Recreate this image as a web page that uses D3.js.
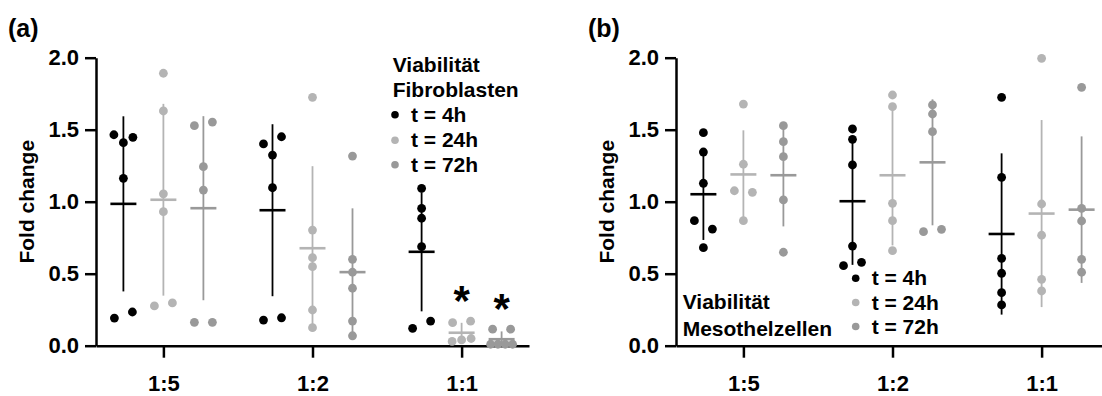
<!DOCTYPE html>
<html>
<head>
<meta charset="utf-8">
<script src="https://cdn.jsdelivr.net/npm/d3@7"></script>
<style>
  body { margin: 0; background: #fff; }
  svg { display: block; font-family: "Liberation Sans", Arial, sans-serif; font-weight: bold; }
</style>
</head>
<body>
<svg id="chart" width="1102" height="396"></svg>
<script>
const ratios = ['1:5', '1:2', '1:1'];
const timepoints = ['t = 4h', 't = 24h', 't = 72h'];
const yTicks = [0, 0.5, 1.0, 1.5, 2.0];

// (a) Fibroblasten: per time point, one list per ratio (1:5, 1:2, 1:1)
const fibro4h = [
  [1.465, 1.41, 1.447, 1.162, 0.192, 0.234],
  [1.401, 1.451, 1.324, 1.097, 0.178, 0.194],
  [1.093, 0.954, 0.885, 0.688, 0.121, 0.171]
];
const fibro24h = [
  [1.892, 1.630, 1.055, 0.931, 0.276, 0.297],
  [1.725, 0.803, 0.611, 0.549, 0.248, 0.125],
  [0.16, 0.17, 0.03, 0.04, 0.05]
];
const fibro72h = [
  [1.528, 1.553, 1.243, 1.081, 0.162, 0.162],
  [1.317, 0.600, 0.510, 0.399, 0.171, 0.069],
  [0.115, 0.115, 0.01, 0.01, 0.01, 0.01]
];

// (b) Mesothelzellen
const meso4h = [
  [1.479, 1.345, 1.128, 0.868, 0.810, 0.681],
  [1.505, 1.433, 1.255, 0.692, 0.556, 0.579],
  [1.725, 1.169, 0.607, 0.503, 0.368, 0.283]
];
const meso24h = [
  [1.678, 1.260, 1.076, 1.065, 0.868],
  [1.741, 1.660, 0.989, 0.868, 0.660],
  [1.996, 0.984, 0.767, 0.461, 0.380]
];
const meso72h = [
  [1.528, 1.417, 1.313, 1.012, 0.649],
  [1.672, 1.609, 1.486, 0.792, 0.808],
  [1.794, 0.954, 0.866, 0.600, 0.510]
];

// significance marks in (a)
const fibroStars = [
  { ratio: '1:1', time: 't = 24h' },
  { ratio: '1:1', time: 't = 72h' }
];

const colors = ['#000000', '#b4b4b4', '#999999'];
const fontSize = 21;
const tickFont = 22;

const svg = d3.select('#chart');

const y = d3.scaleLinear().domain([0, 2]).range([345.7, 57.7]);
const sub = d3.scalePoint().domain(timepoints).range([-40, 40]);

// GraphPad-like scatter: points that sit at almost the same height share a row
function rowOffsets(vals) {
  const order = vals.map((v, i) => i).sort((a, b) => vals[b] - vals[a]);
  const offs = new Array(vals.length).fill(0);
  let i = 0;
  while (i < order.length) {
    const row = [order[i]];
    let j = i + 1;
    while (j < order.length && y(vals[order[j]]) - y(vals[order[i]]) < 8.6) {
      row.push(order[j]);
      j++;
    }
    row.sort((a, b) => a - b);
    const n = row.length;
    if (n > 1) {
      const u = Math.min(n === 2 ? 18 : 9.5, 22 / (n - 1));
      row.forEach((idx, k) => { offs[idx] = (k - (n - 1) / 2) * u; });
    }
    i = j;
  }
  return offs;
}

function drawPanel(p) {
  const g = svg.append('g');
  const x = d3.scalePoint().domain(ratios).range([p.left, p.left + 433]).padding(0.452);

  // axes
  const yAxis = g.append('g')
    .attr('transform', `translate(${p.left},0)`)
    .call(d3.axisLeft(y).tickValues(yTicks).tickFormat(d3.format('.1f')).tickSize(11).tickSizeOuter(0).tickPadding(6));
  const xAxis = g.append('g')
    .attr('transform', `translate(0,${y(0)})`)
    .call(d3.axisBottom(x).tickSize(12).tickSizeOuter(0).tickPadding(18));
  [yAxis, xAxis].forEach(a => {
    a.selectAll('path, line').attr('stroke', '#000').attr('stroke-width', 2.5);
    a.selectAll('text').attr('fill', '#000')
      .style('font-size', tickFont + 'px')
      .style('font-family', '"Liberation Sans", Arial, sans-serif')
      .style('font-weight', 'bold');
  });

  g.append('text')
    .attr('transform', `translate(${p.left - 62},${(y(0) + y(2)) / 2}) rotate(-90)`)
    .attr('text-anchor', 'middle')
    .style('font-size', fontSize + 'px')
    .text('Fold change');

  g.append('text')
    .attr('x', p.left - 88).attr('y', 37)
    .style('font-size', '25px')
    .text(p.label);

  // series
  p.series.forEach((ser, si) => {
    const c = colors[si];
    ratios.forEach((r, ri) => {
      const vals = ser[ri];
      const cx = x(r) + sub(timepoints[si]);
      const m = d3.mean(vals), sd = d3.deviation(vals);
      g.append('line')
        .attr('x1', cx).attr('x2', cx)
        .attr('y1', y(Math.max(0, m - sd))).attr('y2', y(m + sd))
        .attr('stroke', c).attr('stroke-width', 1.8);
      g.append('line')
        .attr('x1', cx - 13).attr('x2', cx + 13)
        .attr('y1', y(m)).attr('y2', y(m))
        .attr('stroke', c).attr('stroke-width', 2.6);
      const offs = rowOffsets(vals);
      g.selectAll(null)
        .data(vals)
        .join('circle')
        .attr('cx', (d, i) => cx + offs[i])
        .attr('cy', d => y(d))
        .attr('r', 4.4)
        .attr('fill', c);
    });
  });

  // stars
  (p.stars || []).forEach(s => {
    const si = timepoints.indexOf(s.time);
    const vals = p.series[si][ratios.indexOf(s.ratio)];
    g.append('text')
      .attr('x', x(s.ratio) + sub(s.time))
      .attr('y', y(d3.max(vals)) - 26 + 20)
      .attr('text-anchor', 'middle')
      .style('font-size', '42px')
      .text('*');
  });

  // legend
  p.title.forEach((t, i) => {
    g.append('text')
      .attr('x', p.titleX).attr('y', p.titleY[i])
      .style('font-size', fontSize + 'px')
      .text(t);
  });
  timepoints.forEach((t, i) => {
    const by = p.legendY[i];
    g.append('circle')
      .attr('cx', p.legendX).attr('cy', by - 7)
      .attr('r', 3.8)
      .attr('fill', colors[i]);
    g.append('text')
      .attr('x', p.legendX + 16).attr('y', by)
      .style('font-size', fontSize + 'px')
      .text(t);
  });
}

drawPanel({
  left: 96,
  label: '(a)',
  series: [fibro4h, fibro24h, fibro72h],
  stars: fibroStars,
  title: ['Viabilität', 'Fibroblasten'],
  titleX: 392.7, titleY: [72.3, 97.3],
  legendX: 395, legendY: [121.7, 147.3, 171.7]
});

drawPanel({
  left: 676,
  label: '(b)',
  series: [meso4h, meso24h, meso72h],
  title: ['Viabilität', 'Mesothelzellen'],
  titleX: 682.7, titleY: [309.3, 336],
  legendX: 855.7, legendY: [285.3, 309.5, 333.5]
});
</script>
</body>
</html>
